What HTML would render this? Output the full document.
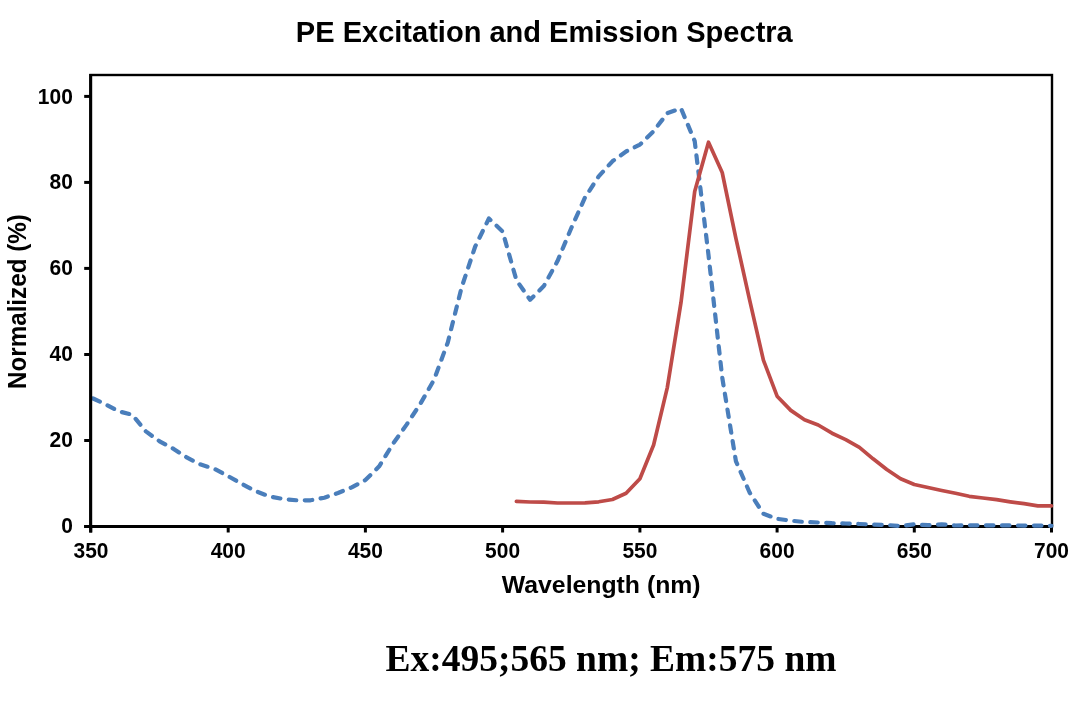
<!DOCTYPE html>
<html lang="en">
<head>
<meta charset="utf-8">
<title>PE Excitation and Emission Spectra</title>
<style>
html,body{margin:0;padding:0;background:#fff;}
body{width:1090px;height:704px;overflow:hidden;position:relative;}
svg{position:absolute;left:0;top:0;display:block;}
.sans{font-family:"Liberation Sans",Arial,Helvetica,sans-serif;font-weight:bold;fill:#000;}
.serif{font-family:"Liberation Serif","Times New Roman",Times,serif;font-weight:bold;fill:#000;}
</style>
</head>
<body>
<svg width="1090" height="704" viewBox="0 0 1090 704">
<rect x="0" y="0" width="1090" height="704" fill="#ffffff"/>
<!-- plot border -->
<rect x="90.5" y="75" width="961.5" height="451.5" fill="none" stroke="#000" stroke-width="2.4"/>
<!-- axes -->
<line x1="84.2" y1="526.5" x2="1053" y2="526.5" stroke="#000" stroke-width="3"/>
<line x1="84.2" y1="526.5" x2="90.6" y2="526.5" stroke="#000" stroke-width="3"/>
<line x1="84.2" y1="440.5" x2="90.6" y2="440.5" stroke="#000" stroke-width="3"/>
<line x1="84.2" y1="354.5" x2="90.6" y2="354.5" stroke="#000" stroke-width="3"/>
<line x1="84.2" y1="268.4" x2="90.6" y2="268.4" stroke="#000" stroke-width="3"/>
<line x1="84.2" y1="182.4" x2="90.6" y2="182.4" stroke="#000" stroke-width="3"/>
<line x1="84.2" y1="96.4" x2="90.6" y2="96.4" stroke="#000" stroke-width="3"/>
<line x1="90.7" y1="526.5" x2="90.7" y2="532.5" stroke="#000" stroke-width="3"/>
<line x1="228.2" y1="526.5" x2="228.2" y2="532.5" stroke="#000" stroke-width="3"/>
<line x1="365.4" y1="526.5" x2="365.4" y2="532.5" stroke="#000" stroke-width="3"/>
<line x1="502.6" y1="526.5" x2="502.6" y2="532.5" stroke="#000" stroke-width="3"/>
<line x1="639.9" y1="526.5" x2="639.9" y2="532.5" stroke="#000" stroke-width="3"/>
<line x1="777.1" y1="526.5" x2="777.1" y2="532.5" stroke="#000" stroke-width="3"/>
<line x1="914.3" y1="526.5" x2="914.3" y2="532.5" stroke="#000" stroke-width="3"/>
<line x1="1051.5" y1="526.5" x2="1051.5" y2="532.5" stroke="#000" stroke-width="3"/>
<text class="sans" transform="translate(72.8,532.95) scale(0.985,1)" font-size="21.3" text-anchor="end">0</text>
<text class="sans" transform="translate(72.8,446.93) scale(0.985,1)" font-size="21.3" text-anchor="end">20</text>
<text class="sans" transform="translate(72.8,360.91) scale(0.985,1)" font-size="21.3" text-anchor="end">40</text>
<text class="sans" transform="translate(72.8,274.89) scale(0.985,1)" font-size="21.3" text-anchor="end">60</text>
<text class="sans" transform="translate(72.8,188.87) scale(0.985,1)" font-size="21.3" text-anchor="end">80</text>
<text class="sans" transform="translate(72.8,103.80) scale(0.985,1)" font-size="21.3" text-anchor="end">100</text>
<text class="sans" transform="translate(91.0,557.8) scale(0.985,1)" font-size="21.3" text-anchor="middle">350</text>
<text class="sans" transform="translate(228.2,557.8) scale(0.985,1)" font-size="21.3" text-anchor="middle">400</text>
<text class="sans" transform="translate(365.4,557.8) scale(0.985,1)" font-size="21.3" text-anchor="middle">450</text>
<text class="sans" transform="translate(502.6,557.8) scale(0.985,1)" font-size="21.3" text-anchor="middle">500</text>
<text class="sans" transform="translate(639.9,557.8) scale(0.985,1)" font-size="21.3" text-anchor="middle">550</text>
<text class="sans" transform="translate(777.1,557.8) scale(0.985,1)" font-size="21.3" text-anchor="middle">600</text>
<text class="sans" transform="translate(914.3,557.8) scale(0.985,1)" font-size="21.3" text-anchor="middle">650</text>
<text class="sans" transform="translate(1051.5,557.8) scale(0.985,1)" font-size="21.3" text-anchor="middle">700</text>
<path d="M91.0,397.5 L104.7,403.9 L118.4,411.2 L132.2,414.7 L145.9,431.4 L159.6,441.3 L173.3,448.7 L187.1,457.7 L200.8,464.6 L214.5,468.9 L228.2,476.2 L241.9,483.9 L255.7,491.2 L269.4,496.4 L283.1,499.0 L296.8,500.3 L310.5,500.3 L324.3,497.7 L338.0,493.0 L351.7,487.4 L365.4,480.0 L379.2,466.3 L392.9,443.9 L406.6,424.6 L420.3,403.9 L434.0,379.8 L447.8,342.4 L461.5,287.8 L475.2,246.5 L488.9,218.5 L502.6,231.5 L516.4,280.1 L530.1,299.8 L543.8,286.1 L557.5,261.1 L571.3,228.0 L585.0,197.5 L598.7,176.4 L612.4,161.3 L626.1,151.5 L639.9,144.6 L653.6,131.2 L667.3,113.2 L681.0,108.4 L694.7,141.1 L708.5,255.1 L722.2,377.3 L735.9,461.1 L749.6,492.5 L763.4,513.8 L777.1,518.8" fill="none" stroke="#4a7ebb" stroke-width="4.2" stroke-linecap="round" stroke-linejoin="round" stroke-dasharray="7.5 8.5" stroke-dashoffset="-2.3"/>
<path d="M1051.5,525.8 L1037.8,525.6 L1024.1,525.6 L1010.3,525.4 L996.6,525.4 L982.9,525.3 L969.2,525.3 L955.5,525.5 L941.7,524.3 L928.0,525.2 L914.3,524.3 L900.6,526.0 L886.8,525.0 L873.1,524.6 L859.4,524.0 L845.7,523.5 L832.0,523.2 L818.2,522.5 L804.5,522.0 L790.8,520.7 L777.1,518.8" fill="none" stroke="#4a7ebb" stroke-width="4.2" stroke-linecap="round" stroke-linejoin="round" stroke-dasharray="7.5 8.5" stroke-dashoffset="5.95"/>
<path d="M516.4,501.3 L530.1,502.0 L543.8,502.2 L557.5,503.0 L571.3,503.0 L585.0,502.8 L598.7,501.8 L612.4,499.5 L626.1,493.3 L639.9,478.8 L653.6,445.0 L667.3,387.6 L681.0,302.4 L694.7,191.5 L708.5,142.2 L722.2,172.5 L735.9,238.3 L749.6,299.8 L763.4,360.1 L777.1,396.2 L790.8,410.4 L804.5,419.8 L818.2,425.0 L832.0,433.2 L845.7,439.6 L859.4,447.4 L873.1,458.8 L886.8,469.5 L900.6,478.8 L914.3,484.5 L928.0,487.5 L941.7,490.5 L955.5,493.3 L969.2,496.3 L982.9,498.0 L996.6,499.7 L1010.3,501.8 L1024.1,503.7 L1037.8,505.8 L1051.5,505.8" fill="none" stroke="#be4b48" stroke-width="3.7" stroke-linecap="round" stroke-linejoin="round"/>
<line x1="90.7" y1="74" x2="90.7" y2="532.5" stroke="#000" stroke-width="3"/>
<text class="sans" transform="translate(544.3,42.2) scale(0.981,1)" font-size="29.6" text-anchor="middle">PE Excitation and Emission Spectra</text>
<text class="sans" transform="translate(601.2,593.3)" font-size="24.8" text-anchor="middle">Wavelength (nm)</text>
<text class="sans" transform="translate(25.8,301.6) rotate(-90) scale(0.95,1)" font-size="25.5" text-anchor="middle">Normalized (%)</text>
<text class="serif" transform="translate(611,671.2) scale(0.987,1)" font-size="38" text-anchor="middle">Ex:495;565 nm; Em:575 nm</text>
</svg>
</body>
</html>
